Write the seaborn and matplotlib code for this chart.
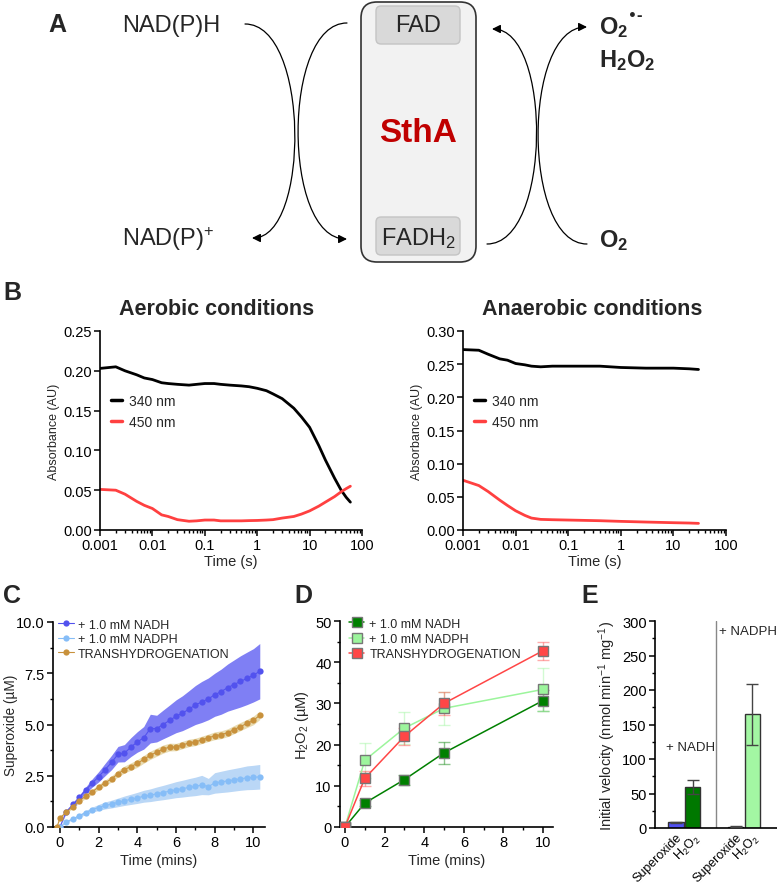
import numpy as np
import pandas as pd
import matplotlib
matplotlib.use('Agg')
import matplotlib.pyplot as plt
import seaborn as sns
from matplotlib.patches import FancyBboxPatch, FancyArrowPatch
from matplotlib.path import Path
from matplotlib.ticker import MultipleLocator, NullFormatter, LogLocator, FormatStrFormatter
from matplotlib.transforms import ScaledTranslation

# ---------------- data ----------------
# Panel B, stopped-flow traces (time in s)
aer_t = [0.001, 0.002, 0.003, 0.005, 0.007, 0.01, 0.015, 0.02, 0.03, 0.05, 0.07, 0.1, 0.15,
         0.2, 0.3, 0.5, 0.7, 1, 1.5, 2, 3, 5, 7, 10, 15, 20, 30, 40, 50, 60]
aer_340 = [0.203, 0.205, 0.200, 0.195, 0.191, 0.189, 0.185, 0.184, 0.183, 0.182, 0.183, 0.184, 0.184,
           0.183, 0.182, 0.181, 0.180, 0.178, 0.175, 0.171, 0.165, 0.153, 0.142, 0.129, 0.106, 0.088,
           0.065, 0.050, 0.041, 0.035]
aer_450 = [0.051, 0.050, 0.045, 0.036, 0.031, 0.027, 0.019, 0.017, 0.013, 0.011, 0.0115, 0.0125, 0.0125,
           0.0115, 0.0115, 0.0115, 0.0118, 0.012, 0.0125, 0.013, 0.015, 0.017, 0.020, 0.024, 0.030,
           0.035, 0.042, 0.048, 0.052, 0.055]

ana_t = [0.001, 0.002, 0.003, 0.005, 0.007, 0.01, 0.015, 0.02, 0.03, 0.05, 0.1, 0.2, 0.4, 1, 3, 10, 20, 30]
ana_340 = [0.272, 0.271, 0.265, 0.258, 0.256, 0.251, 0.249, 0.247, 0.246, 0.247, 0.247, 0.247, 0.247,
           0.245, 0.244, 0.244, 0.243, 0.242]
ana_450 = [0.075, 0.067, 0.058, 0.045, 0.037, 0.029, 0.022, 0.018, 0.016, 0.0155, 0.015, 0.0145, 0.014,
           0.013, 0.012, 0.011, 0.0105, 0.010]

# Panel C, superoxide (uM) vs time (mins)
sup_t = [0.0, 0.33, 0.67, 1.0, 1.33, 1.67, 2.0, 2.33, 2.67, 3.0, 3.33, 3.67, 4.0, 4.33, 4.67, 5.0,
         5.33, 5.67, 6.0, 6.33, 6.67, 7.0, 7.33, 7.67, 8.0, 8.33, 8.67, 9.0, 9.33, 9.67, 10.0, 10.33]
nadh_sup = [0.0, 0.75, 1.1, 1.45, 1.8, 2.15, 2.45, 2.8, 3.15, 3.55, 3.6, 3.9, 4.15, 4.35, 4.8, 4.8,
            5.0, 5.2, 5.4, 5.55, 5.75, 5.95, 6.1, 6.25, 6.45, 6.6, 6.8, 6.95, 7.1, 7.25, 7.4, 7.6]
nadh_sd = [0.0, 0.05, 0.08, 0.1, 0.15, 0.2, 0.25, 0.3, 0.35, 0.38, 0.42, 0.46, 0.5, 0.55, 0.7, 0.65,
           0.7, 0.75, 0.8, 0.85, 0.9, 0.95, 1.0, 1.02, 1.05, 1.1, 1.15, 1.2, 1.25, 1.28, 1.3, 1.35]
nadph_sup = [0.0, 0.25, 0.4, 0.55, 0.7, 0.85, 0.95, 1.05, 1.12, 1.2, 1.28, 1.35, 1.42, 1.5, 1.55, 1.62,
             1.68, 1.75, 1.82, 1.87, 1.93, 1.98, 2.05, 1.97, 2.15, 2.2, 2.25, 2.3, 2.35, 2.4, 2.42, 2.45]
nadph_sd = [0.0, 0.03, 0.05, 0.07, 0.1, 0.12, 0.15, 0.17, 0.19, 0.21, 0.23, 0.25, 0.27, 0.29, 0.31, 0.33,
            0.35, 0.37, 0.39, 0.41, 0.43, 0.45, 0.47, 0.4, 0.5, 0.52, 0.54, 0.55, 0.56, 0.58, 0.59, 0.6]
trans_t = [-0.15, 0.0, 0.33, 0.67, 1.0, 1.33, 1.67, 2.0, 2.33, 2.67, 3.0, 3.33, 3.67, 4.0, 4.33, 4.67,
           5.0, 5.33, 5.67, 6.0, 6.33, 6.67, 7.0, 7.33, 7.67, 8.0, 8.33, 8.67, 9.0, 9.33, 9.67, 10.0, 10.33]
trans_sup = [0.0, 0.45, 0.72, 1.0, 1.28, 1.5, 1.72, 1.95, 2.15, 2.35, 2.6, 2.8, 2.95, 3.1, 3.3, 3.5,
             3.65, 3.8, 3.9, 3.9, 4.0, 4.1, 4.15, 4.25, 4.35, 4.45, 4.5, 4.6, 4.75, 4.9, 5.05, 5.2, 5.45]
trans_sd = [0.0, 0.04, 0.06, 0.08, 0.1, 0.11, 0.12, 0.13, 0.14, 0.15, 0.16, 0.17, 0.18, 0.19, 0.19, 0.2,
            0.2, 0.2, 0.19, 0.18, 0.18, 0.18, 0.18, 0.18, 0.18, 0.19, 0.19, 0.19, 0.2, 0.2, 0.2, 0.21, 0.21]

# Panel D, H2O2 (uM) vs time (mins)
h2o2_t = [0, 1, 3, 5, 10]
nadh_h2o2 = [0, 5.8, 11.5, 18.0, 30.7]
nadh_h2o2_err = [0, 0.8, 1.2, 2.6, 2.6]
nadph_h2o2 = [0, 16.2, 24.0, 28.8, 33.4]
nadph_h2o2_err = [0, 4.2, 3.8, 4.0, 5.2]
trans_h2o2 = [0, 11.8, 22.0, 30.0, 42.8]
trans_h2o2_err = [0, 1.8, 2.0, 2.8, 2.2]

# Panel E, initial velocities
vel_labels = ['Superoxide', 'H$_2$O$_2$', 'Superoxide', 'H$_2$O$_2$']
vel_values = [8, 59, 2, 165]
vel_err = [1, 10, 1, 44]

# ---------------- style ----------------
sns.set_theme(style='ticks')
plt.rcParams['font.family'] = ['Liberation Sans', 'DejaVu Sans']
plt.rcParams['mathtext.fontset'] = 'custom'
plt.rcParams['mathtext.rm'] = 'Liberation Sans'
plt.rcParams['mathtext.it'] = 'Liberation Sans:italic'
plt.rcParams['mathtext.bf'] = 'Liberation Sans:bold'
plt.rcParams['axes.linewidth'] = 1.2
plt.rcParams['xtick.major.width'] = 1.1
plt.rcParams['ytick.major.width'] = 1.1
plt.rcParams['xtick.minor.width'] = 1.0
plt.rcParams['ytick.minor.width'] = 1.0
plt.rcParams['xtick.major.size'] = 4
plt.rcParams['ytick.major.size'] = 4
plt.rcParams['xtick.minor.size'] = 2.5
plt.rcParams['ytick.minor.size'] = 2.5
plt.rcParams['xtick.color'] = 'black'
plt.rcParams['ytick.color'] = 'black'
plt.rcParams['axes.edgecolor'] = 'black'

TICK = 10.5
LABEL = 10.5

W, H = 777, 887
fig = plt.figure(figsize=(W / 100, H / 100), dpi=100)


def box(l, t, r, b):
    # pixel box -> figure fraction rect
    return [l / W, 1 - b / H, (r - l) / W, (b - t) / H]


def ftext(x, y, s, **kw):
    fig.text(x / W, 1 - y / H, s, **kw)


# ---------------- panel A (scheme) ----------------
axA = fig.add_axes([0, 1 - 285 / H, 1, 285 / H])
axA.set_xlim(0, W)
axA.set_ylim(285, 0)
axA.axis('off')

axA.add_patch(FancyBboxPatch((361, 3), 115, 260, boxstyle='round,pad=0,rounding_size=16',
                             fc='#f2f2f2', ec='#333333', lw=1.2))
for top in (7, 218):
    axA.add_patch(FancyBboxPatch((376, top), 84, 38, boxstyle='round,pad=0,rounding_size=5',
                                 fc='#d9d9d9', ec='#c4c4c4', lw=1))
axA.text(418, 26, 'FAD', ha='center', va='center', fontsize=17)
axA.text(418, 239, 'FADH$_2$', ha='center', va='center', fontsize=17)
axA.text(418, 133, 'SthA', ha='center', va='center', fontsize=24, fontweight='bold', color='#c00000')
axA.text(122, 26, 'NAD(P)H', ha='left', va='center', fontsize=17)
axA.text(122, 239, 'NAD(P)$^{+}$', ha='left', va='center', fontsize=17)
axA.text(599, 28, r'$\mathbf{O_2}$', ha='left', va='center', fontsize=17)
axA.text(628, 16, '\u2022-', ha='left', va='center', fontsize=10, fontweight='bold',
         family=['DejaVu Sans'])
axA.text(599, 61, r'$\mathbf{H_2O_2}$', ha='left', va='center', fontsize=17)
axA.text(599, 241, r'$\mathbf{O_2}$', ha='left', va='center', fontsize=17)


def curved(p0, c, p3):
    path = Path([p0, (c, p0[1]), (c, p3[1]), p3],
                [Path.MOVETO, Path.CURVE4, Path.CURVE4, Path.CURVE4])
    axA.add_patch(FancyArrowPatch(path=path, arrowstyle='-|>,head_length=5,head_width=2.5',
                                  color='black', lw=0.9, shrinkA=0, shrinkB=0))


curved((245, 25), 310, (252, 239))
curved((347, 24), 282, (347, 240))
curved((487, 245), 552, (492, 30))
curved((587, 245), 522, (587, 28))

# ---------------- panel B (stopped flow) ----------------
b_colors = {'340 nm': 'black', '450 nm': '#ff4040'}


def trace_panel(rect, t, a340, a450, ymax, title, tx):
    ax = fig.add_axes(rect)
    df = pd.concat([
        pd.DataFrame({'time': t, 'abs': a340, 'wl': '340 nm'}),
        pd.DataFrame({'time': t, 'abs': a450, 'wl': '450 nm'}),
    ])
    sns.lineplot(data=df, x='time', y='abs', hue='wl', palette=b_colors, lw=2, ax=ax)
    ax.set_xscale('log')
    ax.set_xlim(0.001, 100)
    ax.set_ylim(0, ymax)
    ax.set_xticks([0.001, 0.01, 0.1, 1, 10, 100])
    ax.set_xticklabels(['0.001', '0.01', '0.1', '1', '10', '100'])
    ax.xaxis.set_minor_locator(LogLocator(base=10, subs=np.arange(2, 10), numticks=20))
    ax.xaxis.set_minor_formatter(NullFormatter())
    ax.yaxis.set_major_locator(MultipleLocator(0.05))
    ax.yaxis.set_major_formatter(FormatStrFormatter('%.2f'))
    ax.tick_params(labelsize=TICK, pad=2)
    ax.set_xlabel('Time (s)', fontsize=10.5, labelpad=1)
    ax.set_ylabel('Absorbance (AU)', fontsize=9, labelpad=2)
    sns.despine(ax=ax)
    leg = ax.legend(loc='upper left', bbox_to_anchor=(0.02, 0.71), frameon=False, fontsize=10,
                    handlelength=0.8, handletextpad=0.5, labelspacing=0.45, borderaxespad=0)
    for h in leg.get_lines():
        h.set_linewidth(2.5)
    ftext(tx, 310, title, ha='center', va='center', fontsize=15.5, fontweight='bold')
    return ax


trace_panel(box(100, 332, 362, 531), aer_t, aer_340, aer_450, 0.25, 'Aerobic conditions', 217)
trace_panel(box(463, 332, 726, 531), ana_t, ana_340, ana_450, 0.30, 'Anaerobic conditions', 592)

# ---------------- panel C (superoxide) ----------------
axC = fig.add_axes(box(53, 623, 265, 828))
c_series = [
    ('+ 1.0 mM NADH', sup_t, nadh_sup, nadh_sd, '#5252ee', '#7f7ff4'),
    ('+ 1.0 mM NADPH', sup_t, nadph_sup, nadph_sd, '#86bdf7', '#bad7f6'),
    ('TRANSHYDROGENATION', trans_t, trans_sup, trans_sd, '#c8913c', '#e8dbb0'),
]
for name, t, y, sd, col, band in c_series:
    y = np.array(y)
    sd = np.array(sd)
    axC.fill_between(t, y - sd, y + sd, color=band, lw=0, zorder=1)
for name, t, y, sd, col, band in c_series:
    sns.lineplot(x=t, y=y, color=col, marker='o', markersize=4.5, markeredgewidth=0, lw=0.8,
                 label=name, ax=axC, zorder=3)
axC.set_xlim(-0.36, 10.6)
axC.set_ylim(0, 10)
axC.xaxis.set_major_locator(MultipleLocator(2))
axC.xaxis.set_minor_locator(MultipleLocator(1))
axC.yaxis.set_major_locator(MultipleLocator(2.5))
axC.yaxis.set_minor_locator(MultipleLocator(1.25))
axC.yaxis.set_major_formatter(FormatStrFormatter('%.1f'))
axC.tick_params(labelsize=TICK, pad=2)
axC.set_xlabel('Time (mins)', fontsize=LABEL, labelpad=3)
axC.set_ylabel('Superoxide (\u00b5M)', fontsize=9.8)
axC.yaxis.set_label_coords(-0.165, 0.5)
sns.despine(ax=axC)
axC.legend(loc='upper left', bbox_to_anchor=(0.0, 1.04), frameon=False, fontsize=9,
           handlelength=1.3, handletextpad=0.3, labelspacing=0.2, borderaxespad=0)

# ---------------- panel D (H2O2) ----------------
axD = fig.add_axes(box(340, 622, 553, 828))
d_series = [
    ('+ 1.0 mM NADH', nadh_h2o2, nadh_h2o2_err, '#008000'),
    ('+ 1.0 mM NADPH', nadph_h2o2, nadph_h2o2_err, '#9cf59c'),
    ('TRANSHYDROGENATION', trans_h2o2, trans_h2o2_err, '#ff4646'),
]
for name, y, err, col in d_series:
    axD.errorbar(h2o2_t, y, yerr=err, fmt='none', ecolor=col, alpha=0.45, capsize=4, lw=1, zorder=1)
for name, y, err, col in d_series:
    sns.lineplot(x=h2o2_t, y=y, color=col, marker='s', markersize=6.8, markeredgecolor='#777777',
                 markeredgewidth=1, lw=1.1, label=name, ax=axD, zorder=3)
axD.set_xlim(-0.25, 10.5)
axD.set_ylim(0, 50)
axD.xaxis.set_major_locator(MultipleLocator(2))
axD.xaxis.set_minor_locator(MultipleLocator(1))
axD.yaxis.set_major_locator(MultipleLocator(10))
axD.yaxis.set_minor_locator(MultipleLocator(5))
axD.tick_params(labelsize=TICK, pad=2)
axD.set_xlabel('Time (mins)', fontsize=LABEL, labelpad=3)
axD.set_ylabel('H$_2$O$_2$ (\u00b5M)', fontsize=LABEL, labelpad=3)
sns.despine(ax=axD)
axD.legend(loc='upper left', bbox_to_anchor=(0.02, 1.04), frameon=False, fontsize=9,
           handlelength=1.2, handletextpad=0.4, labelspacing=0.25, borderaxespad=0)

# ---------------- panel E (initial velocity) ----------------
axE = fig.add_axes(box(655, 622, 777, 829))
bar_pos = [0, 1, 3.6, 4.6]
bar_colors = ['#5050f2', '#007800', '#6a7aa6', '#a3f7a3']
axE.bar(bar_pos, vel_values, width=0.92, color=bar_colors, edgecolor='#333333', lw=1, zorder=2)
axE.errorbar(bar_pos, vel_values, yerr=vel_err, fmt='none', ecolor='#444444', capsize=4, lw=1, zorder=3)
axE.axvline(2.42, color='#888888', lw=1)
axE.set_xlim(-1.27, 6.1)
axE.set_ylim(0, 300)
axE.yaxis.set_major_locator(MultipleLocator(50))
axE.yaxis.set_minor_locator(MultipleLocator(25))
axE.set_xticks(bar_pos)
axE.set_xticklabels(vel_labels, rotation=45, ha='right', rotation_mode='anchor', fontsize=9)
shift = ScaledTranslation(9 / 100, 0, fig.dpi_scale_trans)
for lab in axE.get_xticklabels():
    lab.set_transform(lab.get_transform() + shift)
axE.tick_params(axis='x', length=0, pad=2)
axE.tick_params(axis='y', labelsize=TICK, pad=2)
axE.set_ylabel('Initial velocity (nmol min$^{-1}$ mg$^{-1}$)', fontsize=LABEL, labelpad=3)
sns.despine(ax=axE)
axE.text(-0.6, 118, '+ NADH', fontsize=9.5, ha='left', va='center')
axE.text(2.6, 285, '+ NADPH', fontsize=9.5, ha='left', va='center')

# ---------------- panel letters ----------------
for letter, x, y in [('A', 57, 25), ('B', 12, 293), ('C', 12, 596), ('D', 303, 596), ('E', 590, 596)]:
    ftext(x, y, letter, ha='center', va='center', fontsize=18, fontweight='bold')

fig.savefig('out.png', dpi=100)
